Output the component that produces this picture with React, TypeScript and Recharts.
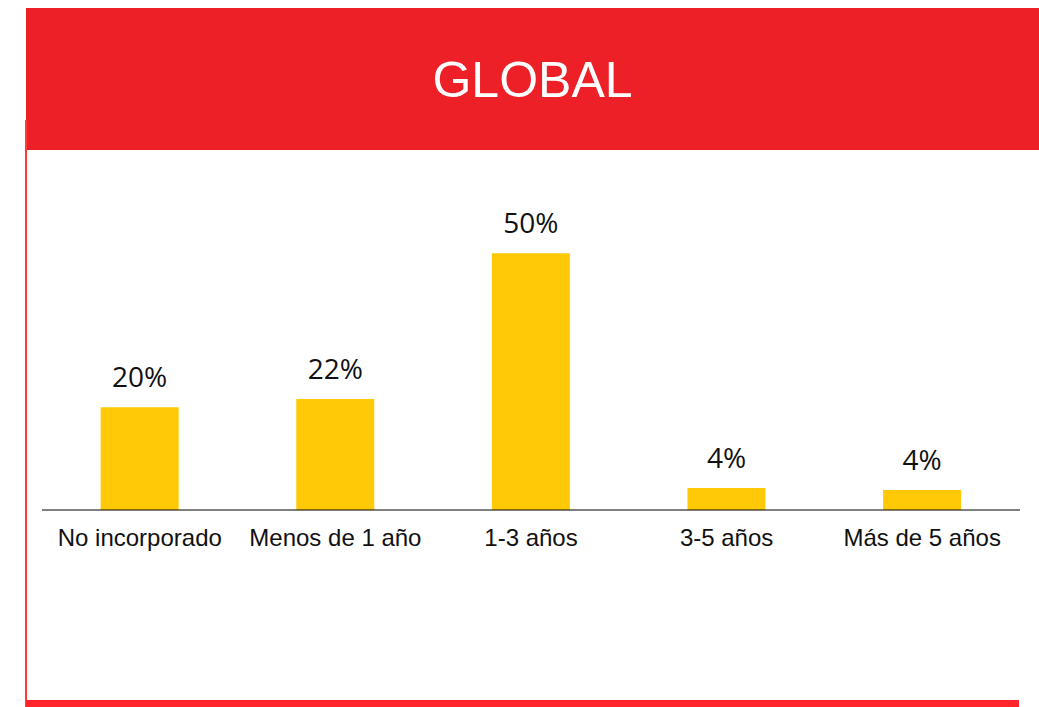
import { BarChart, Bar, XAxis, YAxis, LabelList } from "recharts";

const categories = ["No incorporado", "Menos de 1 año", "1-3 años", "3-5 años", "Más de 5 años"];
const shares = [20, 21.6, 50, 4.3, 3.9];

const data = categories.map((name, i) => ({ name, value: shares[i] }));

export default function App() {
  return (
    <div
      style={{
        position: "fixed",
        left: 0,
        top: 0,
        width: 1039,
        height: 707,
        background: "#fff",
        overflow: "hidden",
      }}
    >
      {/* header band */}
      <div
        style={{
          position: "absolute",
          left: 26,
          top: 8,
          width: 1013,
          height: 142,
          background: "#ED1F27",
        }}
      />
      <div
        style={{
          position: "absolute",
          left: 26,
          top: 8,
          width: 1013,
          height: 142,
          display: "flex",
          justifyContent: "center",
          color: "#fff",
          fontFamily: "'Liberation Sans', Arial, sans-serif",
          fontSize: 50,
          lineHeight: "50px",
          paddingTop: 47,
          boxSizing: "border-box",
        }}
      >
        GLOBAL
      </div>
      {/* left and bottom frame */}
      <div style={{ position: "absolute", left: 25, top: 120, width: 2, height: 587, background: "#FF3A3A" }} />
      <div style={{ position: "absolute", left: 26, top: 700, width: 993, height: 7, background: "#FF252B" }} />

      <div style={{ position: "absolute", left: 0, top: 0 }}>
        <BarChart
          width={1039}
          height={707}
          data={data}
          margin={{ top: 202, right: 19, bottom: 157, left: 42 }}
          barCategoryGap="30%"
        >
          <YAxis hide domain={[0, 60]} />
          <XAxis
            dataKey="name"
            height={40}
            axisLine={{ stroke: "#000", strokeWidth: 1 }}
            tickLine={false}
            interval={0}
            tickMargin={13}
            tick={{ fill: "#111", fontSize: 24, fontFamily: "'Liberation Sans', Arial, sans-serif" }}
          />
          <Bar dataKey="value" fill="#FFC907" isAnimationActive={false}>
            <LabelList
              dataKey="value"
              position="top"
              offset={20}
              formatter={(v: any) => `${Math.round(Number(v))}%`}
              style={{ fill: "#111", fontSize: 28, fontFamily: "'Open Sans', sans-serif" }}
            />
          </Bar>
        </BarChart>
      </div>
    </div>
  );
}
